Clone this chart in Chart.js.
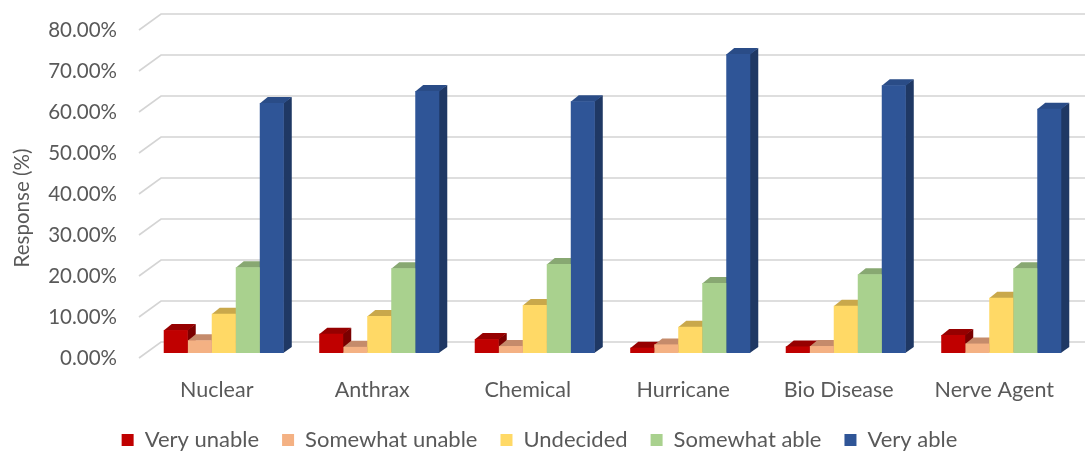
<!DOCTYPE html>
<html>
<head>
<meta charset="utf-8">
<style>
  html, body { margin: 0; padding: 0; background: #ffffff; }
  #wrap { width: 1085px; height: 454px; }
</style>
<script src="https://cdn.jsdelivr.net/npm/chart.js@4.4.1/dist/chart.umd.min.js"></script>
</head>
<body>
<div id="wrap"><canvas id="chart" width="1085" height="454"></canvas></div>
<script>
// Scenario categories and response shares (percent of respondents)
const categories = ['Nuclear', 'Anthrax', 'Chemical', 'Hurricane', 'Bio Disease', 'Nerve Agent'];
const seriesNames = ['Very unable', 'Somewhat unable', 'Undecided', 'Somewhat able', 'Very able'];
const veryUnable     = [5.6, 4.7, 3.4, 1.3, 1.6, 4.4];
const somewhatUnable = [3.1, 1.5, 1.7, 2.1, 1.7, 2.3];
const undecided      = [9.6, 9.0, 11.7, 6.4, 11.5, 13.5];
const somewhatAble   = [20.9, 20.7, 21.7, 17.1, 19.2, 20.7];
const veryAble       = [61.0, 63.9, 61.4, 72.9, 65.3, 59.6];
const yTicks = [0, 10, 20, 30, 40, 50, 60, 70, 80];
const yTitle = 'Response (%)';

const seriesValues = [veryUnable, somewhatUnable, undecided, somewhatAble, veryAble];
const frontColors = ['#C00000', '#F4B183', '#FFD966', '#A9D18E', '#2F5597'];
const topColors   = ['#960000', '#C58B6B', '#C9A84B', '#88A872', '#2A4C87'];
const sideColors  = ['#7A0000', '#B07A5C', '#B8963E', '#789562', '#1F3864'];

// Pseudo-3D geometry: column depth, and wall offsets relative to the column plane
const BAR_DX = 8, BAR_DY = 6;
const FRONT_DX = 7, FRONT_DY = 5;
const BACK_DX = 15, BACK_DY = 11;

const TEXT = '#595959';
const FONT = 'Lato, "Open Sans", sans-serif';

const depth3d = {
  id: 'depth3d',
  beforeDatasetsDraw(chart) {
    const ctx = chart.ctx;
    const ys = chart.scales.y;
    const area = chart.chartArea;
    ctx.save();
    // back wall gridlines with floor-to-wall connectors
    ctx.strokeStyle = '#D4D4D4';
    ctx.lineWidth = 1.6;
    ys.ticks.forEach(t => {
      const py = ys.getPixelForValue(t.value);
      ctx.beginPath();
      ctx.moveTo(area.left - FRONT_DX, py + FRONT_DY);
      ctx.lineTo(area.left + BACK_DX, py - BACK_DY);
      ctx.lineTo(chart.width + 20, py - BACK_DY);
      ctx.stroke();
    });
    // side and top faces of every column
    chart.data.datasets.forEach((ds, i) => {
      const meta = chart.getDatasetMeta(i);
      meta.data.forEach(bar => {
        const p = bar.getProps(['x', 'y', 'base', 'width'], true);
        const l = p.x - p.width / 2, r = p.x + p.width / 2;
        const top = p.y, base = p.base;
        ctx.fillStyle = sideColors[i];
        ctx.beginPath();
        ctx.moveTo(r - 0.5, top);
        ctx.lineTo(r + BAR_DX, top - BAR_DY);
        ctx.lineTo(r + BAR_DX, base - BAR_DY);
        ctx.lineTo(r - 0.5, base);
        ctx.closePath();
        ctx.fill();
        ctx.fillStyle = topColors[i];
        ctx.beginPath();
        ctx.moveTo(l, top + 0.5);
        ctx.lineTo(r, top + 0.5);
        ctx.lineTo(r + BAR_DX, top - BAR_DY);
        ctx.lineTo(l + BAR_DX, top - BAR_DY);
        ctx.closePath();
        ctx.fill();
      });
    });
    ctx.restore();
  },
  afterDraw(chart) {
    // vertical axis title, centred on the walls rather than the column plane
    const ctx = chart.ctx;
    ctx.save();
    ctx.translate(22, 208);
    ctx.rotate(-Math.PI / 2);
    ctx.fillStyle = TEXT;
    ctx.font = '20.5px ' + FONT;
    ctx.textAlign = 'center';
    ctx.textBaseline = 'middle';
    ctx.fillText(yTitle, 0, 0);
    ctx.restore();
  }
};

const datasets = seriesNames.map((name, i) => ({
  label: name,
  data: seriesValues[i],
  backgroundColor: frontColors[i],
  borderWidth: 0,
  barPercentage: 1.0,
  categoryPercentage: 0.772
}));

new Chart(document.getElementById('chart'), {
  type: 'bar',
  data: { labels: categories, datasets },
  plugins: [depth3d],
  options: {
    responsive: false,
    animation: false,
    devicePixelRatio: 1,
    layout: { padding: { top: 25, right: 6, left: 0, bottom: -7 } },
    plugins: {
      tooltip: { enabled: false },
      legend: {
        position: 'bottom',
        labels: {
          boxWidth: 12,
          boxHeight: 12,
          padding: 23,
          color: TEXT,
          font: { family: FONT, size: 22 }
        }
      }
    },
    scales: {
      x: {
        afterFit(scale) {
          scale.height = 53;
          scale.paddingLeft = 0;
          scale.paddingRight = 0;
        },
        grid: { display: false, drawTicks: false },
        border: { display: false },
        ticks: {
          color: TEXT,
          font: { family: FONT, size: 21.5 },
          padding: 24,
          labelOffset: -FRONT_DX
        }
      },
      y: {
        min: 0,
        max: 80,
        afterBuildTicks(scale) { scale.ticks = yTicks.map(v => ({ value: v })); },
        afterFit(scale) {
          scale.width = 146;
          scale.paddingTop = 0;
          scale.paddingBottom = 0;
        },
        grid: { display: false, drawTicks: false },
        border: { display: false },
        ticks: {
          color: TEXT,
          font: { family: FONT, size: 20.5 },
          padding: 29,
          labelOffset: FRONT_DY,
          callback: v => Number(v).toFixed(2) + '%'
        }
      }
    }
  }
});
</script>
</body>
</html>
